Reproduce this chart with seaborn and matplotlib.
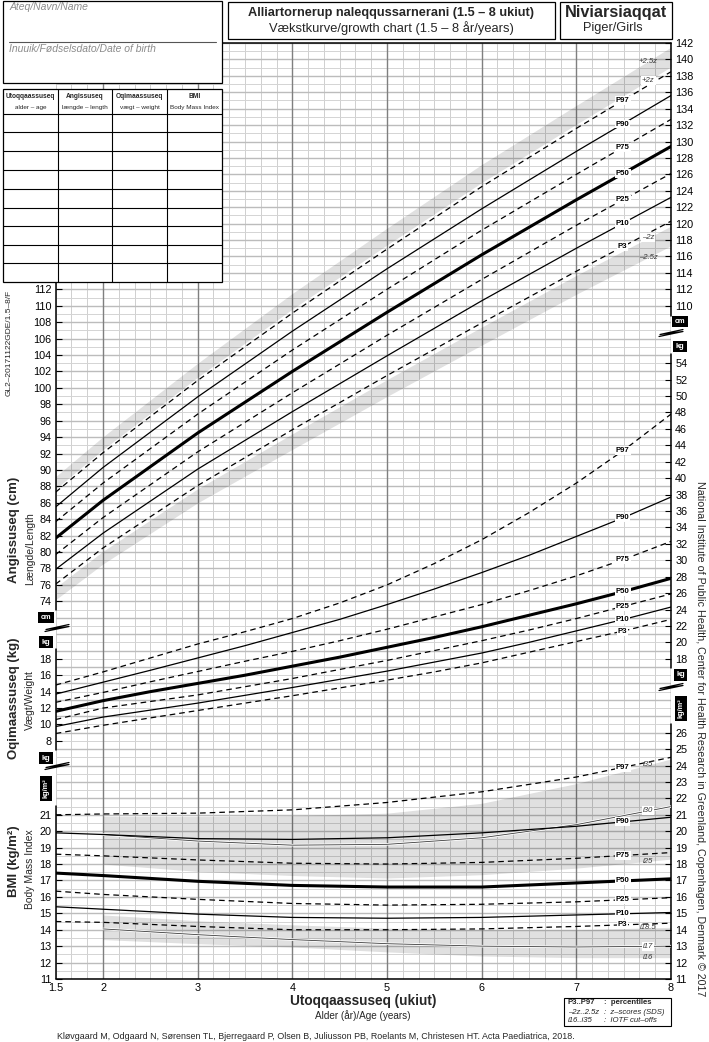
import numpy as np
import pandas as pd
import matplotlib
matplotlib.use("Agg")
import matplotlib.pyplot as plt
import seaborn as sns
from matplotlib.patches import Rectangle
from matplotlib.lines import Line2D

# ---------------- data ----------------
ages = [1.5, 2, 3, 4, 5, 6, 7, 8]
wt_ages = [1.5, 2, 2.5, 3, 3.5, 4, 4.5, 5, 5.5, 6, 6.5, 7, 7.5, 8]
iotf_ages = [2, 3, 4, 5, 6, 7, 8]
age_ticks = [1.5, 2, 3, 4, 5, 6, 7, 8]
age_tick_labels = ["1.5", "2", "3", "4", "5", "6", "7", "8"]

# Length (cm)
len_p3 = [76.1, 80.5, 88.1, 94.9, 101.5, 107.9, 114.2, 120.3]
len_p10 = [77.9, 82.3, 90.1, 97.1, 103.9, 110.6, 117.0, 123.2]
len_p25 = [79.7, 84.2, 92.2, 99.4, 106.4, 113.2, 119.8, 126.1]
len_p50 = [81.7, 86.3, 94.5, 102.0, 109.2, 116.2, 122.9, 129.4]
len_p75 = [83.7, 88.4, 96.8, 104.6, 112.0, 119.2, 126.0, 132.7]
len_p90 = [85.5, 90.3, 98.9, 106.9, 114.5, 121.8, 128.8, 135.6]
len_p97 = [87.3, 92.1, 100.9, 109.1, 116.9, 124.5, 131.6, 138.5]
len_zp2 = [87.7, 92.5, 101.3, 109.6, 117.4, 125.0, 132.1, 139.1]
len_zp25 = [89.2, 94.05, 103.0, 111.5, 119.45, 127.2, 134.4, 141.5]
len_zm2 = [75.7, 80.1, 87.7, 94.4, 101.0, 107.4, 113.7, 119.7]
len_zm25 = [74.2, 78.55, 86.0, 92.5, 98.95, 105.2, 111.4, 117.3]

# Weight (kg), half-year readings
wt_p3 = [8.9, 9.9, 10.8, 11.7, 12.6, 13.5, 14.45, 15.4, 16.4, 17.5, 18.8, 20.1, 21.4, 22.8]
wt_p10 = [9.75, 10.9, 11.75, 12.6, 13.55, 14.5, 15.5, 16.5, 17.6, 18.7, 20.0, 21.4, 22.8, 24.3]
wt_p25 = [10.6, 12.0, 12.8, 13.6, 14.6, 15.6, 16.7, 17.8, 19.0, 20.2, 21.5, 22.9, 24.4, 25.9]
wt_p50 = [11.6, 12.9, 14.0, 15.0, 16.0, 17.1, 18.2, 19.4, 20.6, 21.9, 23.3, 24.7, 26.2, 27.8]
wt_p75 = [12.7, 13.9, 15.2, 16.45, 17.7, 18.9, 20.2, 21.6, 23.1, 24.6, 26.3, 28.1, 30.1, 32.3]
wt_p90 = [13.7, 15.15, 16.6, 18.1, 19.6, 21.2, 22.8, 24.6, 26.5, 28.5, 30.6, 32.9, 35.2, 37.7]
wt_p97 = [14.8, 16.4, 18.1, 19.8, 21.3, 22.9, 24.8, 27.0, 29.6, 32.5, 35.8, 39.4, 43.4, 47.8]

# BMI (kg/m2)
bmi_p3 = [14.5, 14.45, 14.2, 14.0, 14.0, 14.05, 14.2, 14.4]
bmi_p10 = [15.4, 15.25, 14.95, 14.75, 14.7, 14.75, 14.9, 15.05]
bmi_p25 = [16.35, 16.15, 15.85, 15.6, 15.5, 15.55, 15.7, 15.95]
bmi_p50 = [17.45, 17.3, 16.95, 16.7, 16.6, 16.6, 16.85, 17.1]
bmi_p75 = [18.6, 18.5, 18.25, 18.05, 18.0, 18.1, 18.35, 18.7]
bmi_p90 = [19.9, 19.8, 19.55, 19.5, 19.6, 19.9, 20.3, 20.85]
bmi_p97 = [21.0, 21.05, 21.1, 21.3, 21.75, 22.4, 23.3, 24.5]

# IOTF cut-offs (from age 2)
iotf_35 = [20.9, 20.9, 20.95, 21.1, 21.7, 22.9, 24.4]
iotf_30 = [19.8, 19.4, 19.15, 19.2, 19.6, 20.4, 21.5]
iotf_25 = [18.0, 17.55, 17.3, 17.15, 17.35, 17.75, 18.3]
iotf_185 = [14.9, 14.55, 14.3, 14.1, 14.0, 14.0, 14.15]
iotf_17 = [14.05, 13.7, 13.4, 13.15, 13.0, 12.95, 13.0]
iotf_16 = [13.4, 13.15, 12.95, 12.65, 12.4, 12.3, 12.3]

len_left_ticks = list(range(74, 113, 2))
len_right_ticks = list(range(110, 143, 2))
wt_left_ticks = list(range(8, 19, 2))
wt_right_ticks = list(range(18, 55, 2))
bmi_left_ticks = list(range(11, 22))
bmi_right_ticks = list(range(11, 27))

table_heads = [("Utoqqaassuseq", "alder – age"), ("Angissuseq", "længde – length"),
               ("Oqimaassuseq", "vægt – weight"), ("BMI", "Body Mass Index")]

# ---------------- figure ----------------
sns.set_theme(style="white")
plt.rcParams["font.family"] = ["Liberation Sans", "DejaVu Sans"]
plt.rcParams["ytick.color"] = "black"
plt.rcParams["xtick.color"] = "black"

W, H = 709, 1042
fig = plt.figure(figsize=(W / 100, H / 100), dpi=100)
fig.patch.set_facecolor("white")


def fx(p):
    return p / W


def fy(p):
    return 1 - p / H


X0, X1, YT, YB = 55.7, 671.0, 43.0, 979.0
rect = [fx(X0), fy(YB), (X1 - X0) / W, (YB - YT) / H]
PPU = (YB - YT) / 114.0


def u_of(py):
    return (YB - py) / PPU


base = fig.add_axes(rect)
base.set_xlim(1.5, 8)
base.set_ylim(0, 114)
base.set_facecolor("white")
for s in base.spines.values():
    s.set_visible(False)
base.set_yticks([])
base.set_xticks(age_ticks, age_tick_labels)
base.tick_params(axis="x", length=0, pad=3, labelsize=7.8, bottom=True)
base.grid(False)

for k in range(9, 49):
    xv = k / 6
    if k % 6 == 0:
        base.axvline(xv, color="#7f7f7f", lw=1.0, zorder=1.3)
    else:
        base.axvline(xv, color="#cfcfcf", lw=0.7, zorder=1.0)
for uu in range(0, 115):
    if uu % 2 == 0:
        base.axhline(uu, color="#bcbcbc", lw=1.0, zorder=1.1)
    else:
        base.axhline(uu, color="#d4d4d4", lw=0.7, zorder=1.1)

# frame pieces
base.plot([1.5, 8], [0, 0], color="black", lw=1.1, clip_on=False, zorder=3)
base.plot([1.5, 8], [114, 114], color="black", lw=1.1, clip_on=False, zorder=3)
for a, b in [(282, 610), (649, 750), (806, 979)]:
    base.plot([1.5, 1.5], [u_of(a), u_of(b)], color="black", lw=1.1, clip_on=False, zorder=3)
for a, b in [(43, 316), (354, 668), (724, 979)]:
    base.plot([8, 8], [u_of(a), u_of(b)], color="black", lw=1.1, clip_on=False, zorder=3)


def measure_axes(lo, hi, left_ticks, right_ticks):
    a = fig.add_axes(rect, sharex=base)
    a.set_ylim(lo, hi)
    a.patch.set_visible(False)
    a.grid(False)
    for s in a.spines.values():
        s.set_visible(False)
    a.tick_params(axis="x", bottom=False, labelbottom=False)
    a.set_yticks(left_ticks, [str(t) for t in left_ticks])
    a.tick_params(axis="y", direction="in", length=4, width=0.8, labelsize=7.8, pad=3,
                  left=True, labelleft=True, right=False, labelright=False)
    r = a.twinx()
    r.set_ylim(lo, hi)
    r.grid(False)
    for s in r.spines.values():
        s.set_visible(False)
    r.set_yticks(right_ticks, [str(t) for t in right_ticks])
    r.tick_params(axis="y", direction="in", length=4, width=0.8, labelsize=7.8, pad=3,
                  right=True, labelright=True, left=False, labelleft=False)
    return a


ax_len = measure_axes(28, 142, len_left_ticks, len_right_ticks)
ax_wt = measure_axes(-21, 93, wt_left_ticks, wt_right_ticks)
ax_bmi = measure_axes(11, 68, bmi_left_ticks, bmi_right_ticks)

STY = {"dash": dict(linewidth=0.9, linestyle=(0, (4.5, 3.2))),
       "solid": dict(linewidth=0.9, linestyle="-"),
       "thick": dict(linewidth=2.2, linestyle="-")}


def curve(ax, xs, ys, kind, color="black", z=4):
    sns.lineplot(x=xs, y=ys, ax=ax, color=color, estimator=None, sort=False,
                 legend=False, zorder=z, **STY[kind])


def label(ax, xpos, xs, ys, text, kind="p", bg=True):
    yv = np.interp(xpos, xs, ys)
    kw = dict(fontsize=5.6, ha="center", va="center", zorder=6)
    if kind == "p":
        kw.update(fontweight="bold", color="black")
    else:
        kw.update(style="italic", color="#3a3a3a")
    if bg:
        kw["bbox"] = dict(boxstyle="square,pad=0.12", fc="white", ec="none")
    ax.text(xpos, yv, text, **kw)


FILL = dict(color="black", alpha=0.12, lw=0, zorder=2)
PX = 7.49
ZX = 7.76

# ---- length
ax_len.fill_between(ages, len_zp2, len_zp25, **FILL)
ax_len.fill_between(ages, len_zm25, len_zm2, **FILL)
for ys, kind in [(len_p3, "dash"), (len_p10, "solid"), (len_p25, "dash"), (len_p50, "thick"),
                 (len_p75, "dash"), (len_p90, "solid"), (len_p97, "dash")]:
    curve(ax_len, ages, ys, kind)
for ys, t in [(len_p97, "P97"), (len_p90, "P90"), (len_p75, "P75"), (len_p50, "P50"),
              (len_p25, "P25"), (len_p10, "P10"), (len_p3, "P3")]:
    label(ax_len, PX, ages, ys, t)
label(ax_len, ZX, ages, len_zp25, "+2.5z", "z", bg=False)
label(ax_len, ZX, ages, len_zp2, "+2z", "z")
label(ax_len, ZX, ages, len_zm2, "–2z", "z")
label(ax_len, ZX, ages, len_zm25, "–2.5z", "z", bg=False)

# ---- weight
for ys, kind in [(wt_p3, "dash"), (wt_p10, "solid"), (wt_p25, "dash"), (wt_p50, "thick"),
                 (wt_p75, "dash"), (wt_p90, "solid"), (wt_p97, "dash")]:
    curve(ax_wt, wt_ages, ys, kind)
for ys, t in [(wt_p97, "P97"), (wt_p90, "P90"), (wt_p75, "P75"), (wt_p50, "P50"),
              (wt_p25, "P25"), (wt_p10, "P10"), (wt_p3, "P3")]:
    label(ax_wt, PX, wt_ages, ys, t)

# ---- BMI
ax_bmi.fill_between(iotf_ages, iotf_25, iotf_35, **FILL)
ax_bmi.fill_between(iotf_ages, iotf_16, iotf_185, **FILL)
for ys in (iotf_30, iotf_17):
    sns.lineplot(x=iotf_ages, y=ys, ax=ax_bmi, color="white", linewidth=1.8, estimator=None,
                 sort=False, legend=False, zorder=3)
    sns.lineplot(x=iotf_ages, y=ys, ax=ax_bmi, color="#3c3c3c", linewidth=0.6, estimator=None,
                 sort=False, legend=False, zorder=3.2)
for ys, kind in [(bmi_p3, "dash"), (bmi_p10, "solid"), (bmi_p25, "dash"), (bmi_p50, "thick"),
                 (bmi_p75, "dash"), (bmi_p90, "solid"), (bmi_p97, "dash")]:
    curve(ax_bmi, ages, ys, kind)
for ys, t in [(bmi_p97, "P97"), (bmi_p90, "P90"), (bmi_p75, "P75"), (bmi_p50, "P50"),
              (bmi_p25, "P25"), (bmi_p10, "P10"), (bmi_p3, "P3")]:
    label(ax_bmi, PX, ages, ys, t)
label(ax_bmi, ZX, iotf_ages, iotf_35, "i35", "z", bg=False)
label(ax_bmi, ZX, iotf_ages, iotf_30, "i30", "z")
label(ax_bmi, ZX, iotf_ages, iotf_25, "i25", "z", bg=False)
label(ax_bmi, ZX, iotf_ages, iotf_185, "i18.5", "z", bg=False)
label(ax_bmi, ZX, iotf_ages, iotf_17, "i17", "z")
label(ax_bmi, ZX, iotf_ages, iotf_16, "i16", "z", bg=False)


# ---------------- figure furniture ----------------
def fig_rect(x0, y0, x1, y1, lw=0.9, ec="black", fc="white", z=5):
    fig.add_artist(Rectangle((fx(x0), fy(y1)), (x1 - x0) / W, (y1 - y0) / H,
                             transform=fig.transFigure, fc=fc, ec=ec, lw=lw, zorder=z))


def fig_line(xs, ys, color="black", lw=0.8, z=6):
    fig.add_artist(Line2D([fx(v) for v in xs], [fy(v) for v in ys], transform=fig.transFigure,
                          color=color, lw=lw, zorder=z))


def ftext(x, y, s, **kw):
    kw.setdefault("ha", "center")
    kw.setdefault("va", "center")
    kw.setdefault("zorder", 7)
    fig.text(fx(x), fy(y), s, **kw)


# name box
fig_rect(3, 1, 221.7, 83)
ftext(10, 7.5, "Ateq/Navn/Name", ha="left", fontsize=7.5, style="italic", color="#8c8c8c")
fig_line([9, 216], [42.3, 42.3], color="#555555", lw=0.8)
ftext(9, 48.5, "Inuuik/Fødselsdato/Date of birth", ha="left", fontsize=7.5, style="italic",
      color="#8c8c8c")

# table
col_x = [3, 57.5, 112, 167, 221.7]
row_y = [89, 113.5, 132, 151, 169.5, 188.5, 207.5, 226, 244.5, 263, 281.5]
fig_rect(col_x[0], row_y[0], col_x[-1], row_y[-1])
for cx in col_x[1:-1]:
    fig_line([cx, cx], [row_y[0], row_y[-1]])
for ry in row_y[1:-1]:
    fig_line([col_x[0], col_x[-1]], [ry, ry])
for i, (h1, h2) in enumerate(table_heads):
    cx = (col_x[i] + col_x[i + 1]) / 2
    ftext(cx, 97, h1, fontsize=4.8, fontweight="bold")
    ftext(cx, 107, h2, fontsize=4.6)

# title boxes
fig_rect(228, 2, 555, 39)
ftext(391.5, 13, "Alliartornerup naleqqussarnerani (1.5 – 8 ukiut)", fontsize=9.2, fontweight="bold")
ftext(391.5, 28.5, "Vækstkurve/growth chart (1.5 – 8 år/years)", fontsize=9.3)
fig_rect(560, 2, 672, 39)
ftext(616, 13, "Niviarsiaqqat", fontsize=11.7, fontweight="bold")
ftext(613, 28.5, "Piger/Girls", fontsize=9.2)


def unit_box(cx, cy, text, rot=0):
    ftext(cx, cy, text, color="white", fontsize=5.3, fontweight="bold", rotation=rot,
          bbox=dict(boxstyle="square,pad=0.3", fc="black", ec="none"))


def zigzag(cx, cy):
    fig_line([cx - 12, cx + 12, cx - 11, cx + 12], [cy + 3.5, cy - 1.5, cy + 1.5, cy - 3.5],
             lw=0.9)


unit_box(46, 617.5, "cm")
zigzag(57, 628)
unit_box(46, 642, "kg")
unit_box(46, 758, "kg")
zigzag(57, 766)
unit_box(46, 788.5, "kg/m²", rot=90)
unit_box(680, 321.5, "cm")
zigzag(671, 333)
unit_box(680, 346.5, "kg")
unit_box(680.5, 675, "kg")
zigzag(671, 687)
unit_box(681, 708.5, "kg/m²", rot=90)

# axis titles
ftext(14, 530, "Angissuseq (cm)", rotation=90, fontsize=9.5, fontweight="bold")
ftext(30, 549, "Længde/Length", rotation=90, fontsize=7.5)
ftext(14, 698, "Oqimaassuseq (kg)", rotation=90, fontsize=9.5, fontweight="bold")
ftext(30, 700, "Vægt/Weight", rotation=90, fontsize=7.5)
ftext(14, 861, "BMI (kg/m²)", rotation=90, fontsize=9.5, fontweight="bold")
ftext(30, 869, "Body Mass Index", rotation=90, fontsize=7.5)
ftext(9, 343, "GL2–20171122GDE/1.5–8/F", rotation=90, fontsize=6.0)
ftext(700, 739, "National Institute of Public Health, Center for Health Research in Greenland, "
      "Copenhagen, Denmark © 2017", rotation=270, fontsize=7.7)

ftext(363, 1001, "Utoqqaassuseq (ukiut)", fontsize=9.8, fontweight="bold")
ftext(363, 1016, "Alder (år)/Age (years)", fontsize=7.2)
ftext(316, 1036.5, "Kløvgaard M, Odgaard N, Sørensen TL, Bjerregaard P, Olsen B, Juliusson PB, "
      "Roelants M, Christesen HT. Acta Paediatrica, 2018.", fontsize=6.4)

# legend box
fig_rect(564, 998, 671, 1026, lw=0.8)
ftext(568, 1003, "P3..P97", ha="left", fontsize=5.6, fontweight="bold")
ftext(604, 1003, ":  percentiles", ha="left", fontsize=5.6, fontweight="bold")
ftext(568, 1012, "–2z..2.5z", ha="left", fontsize=5.6, style="italic")
ftext(604, 1012, ":  z–scores (SDS)", ha="left", fontsize=5.6, style="italic")
ftext(568, 1021, "i16..i35", ha="left", fontsize=5.6, style="italic")
ftext(604, 1021, ":  IOTF cut–offs", ha="left", fontsize=5.6, style="italic")

fig.savefig("out.png", dpi=100, facecolor="white")
